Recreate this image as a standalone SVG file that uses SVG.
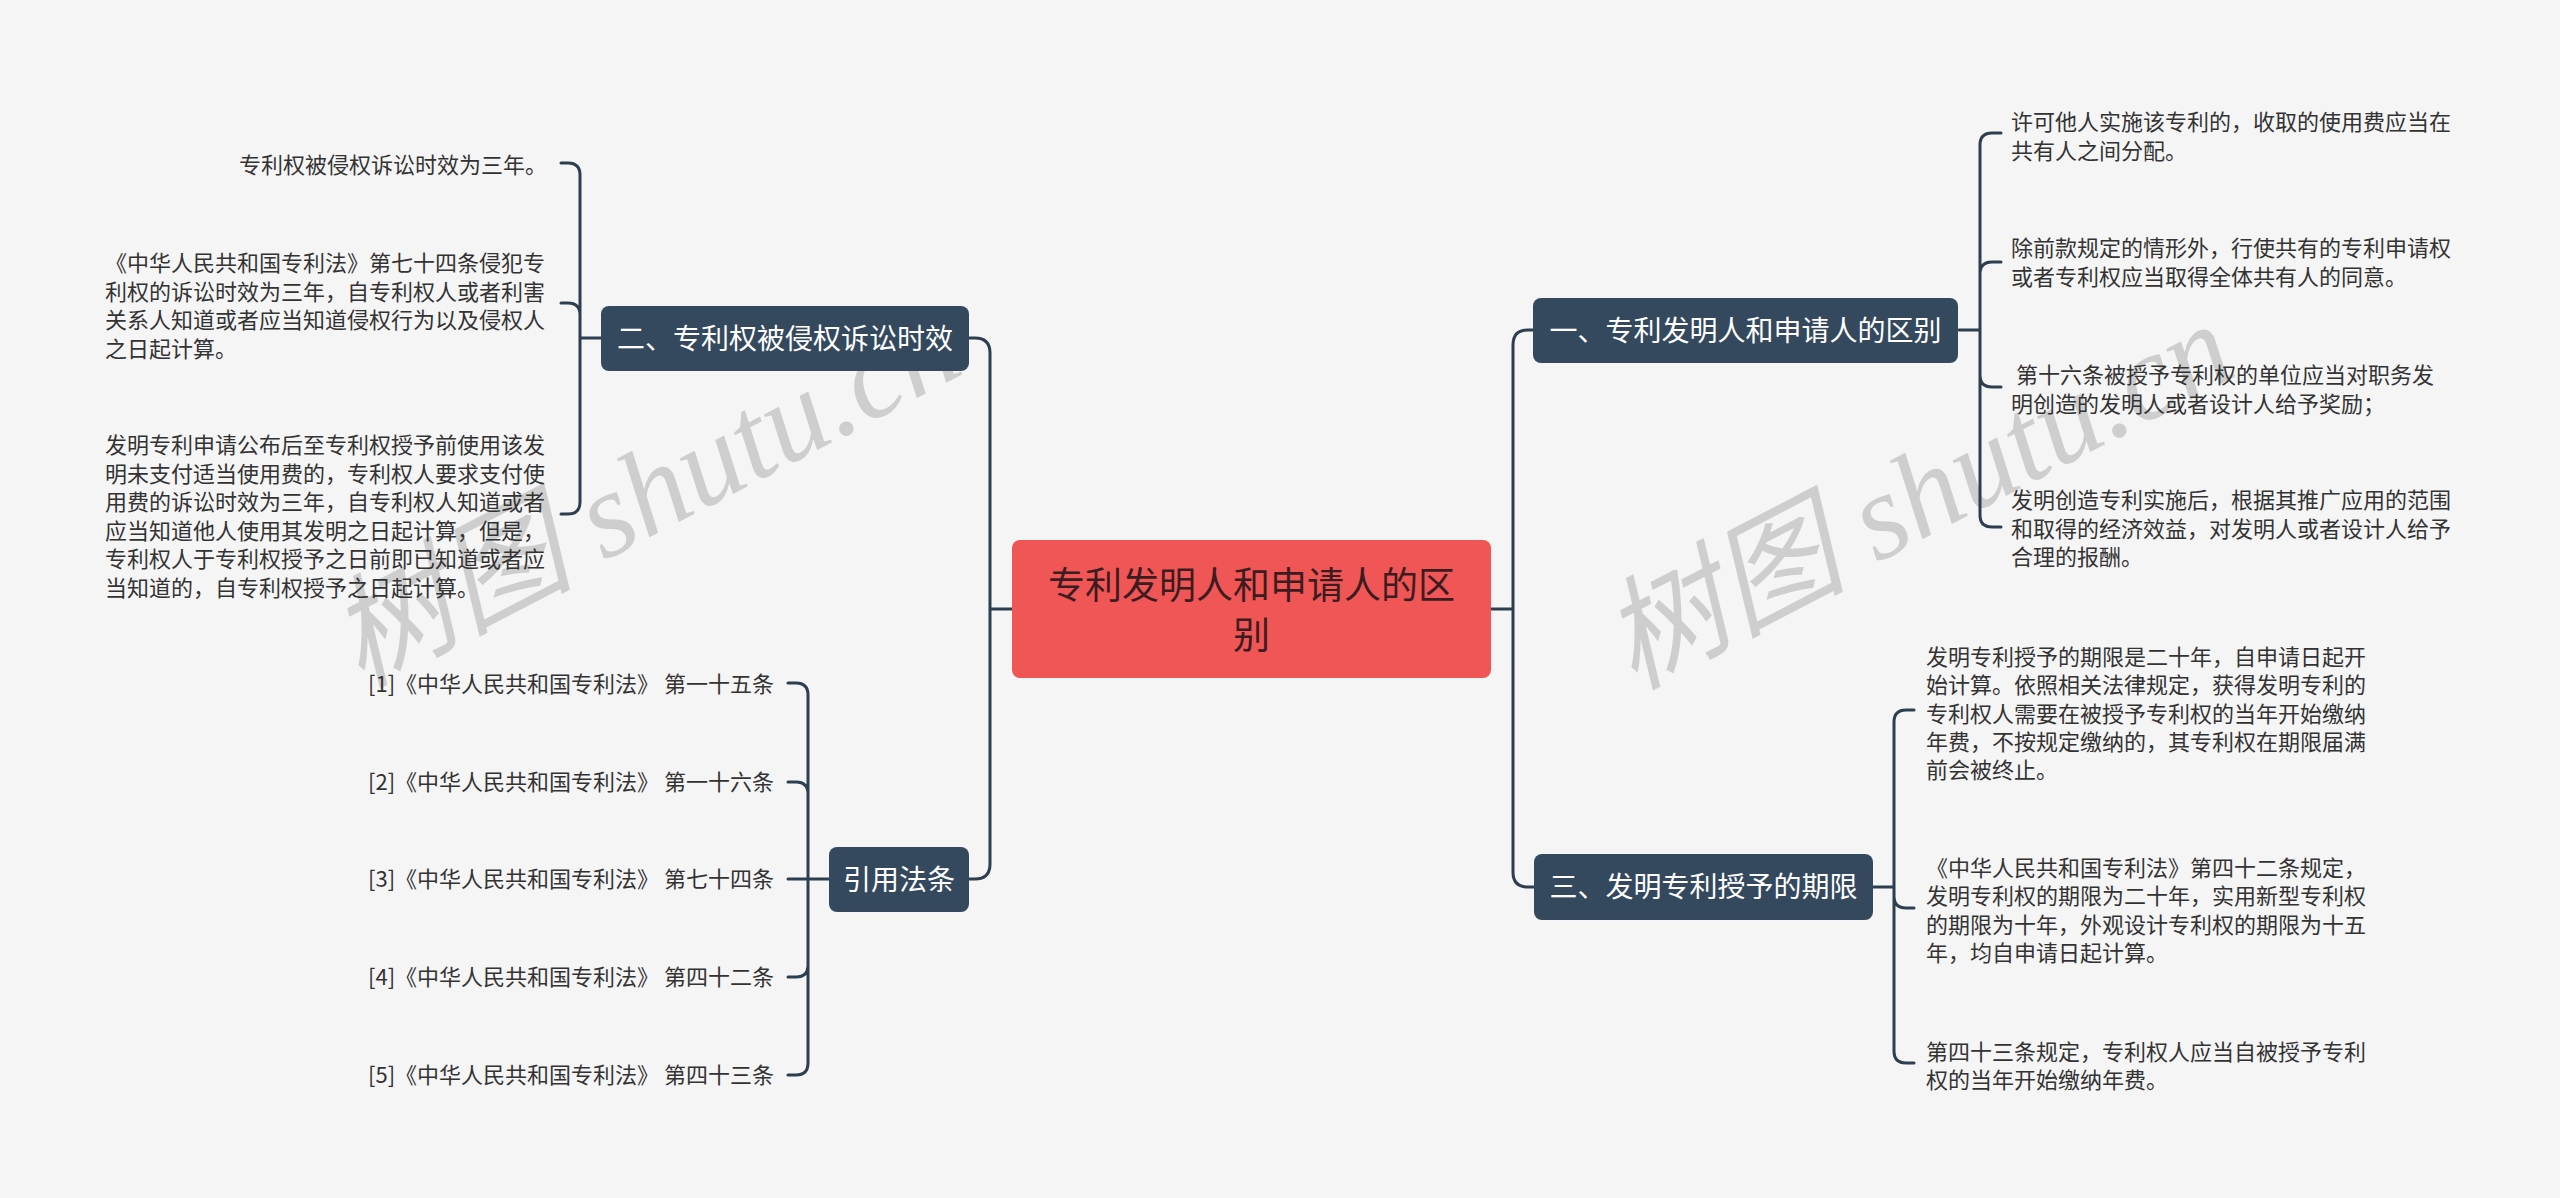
<svg xmlns="http://www.w3.org/2000/svg" width="2560" height="1198" viewBox="0 0 2560 1198">
<style>
.bg{fill:#f5f5f5}
.link{fill:none;stroke:#2c3e50;stroke-width:3;stroke-linecap:round}
.topic{fill:#34495e}
.tt{font-family:"Noto Sans CJK SC","Noto Sans",sans-serif;font-size:28px;fill:#ffffff;text-anchor:middle}
.ct{font-family:"Noto Sans CJK SC","Noto Sans",sans-serif;font-size:37px;fill:#3d1c1f;text-anchor:middle}
.leaf{font-family:"Noto Sans CJK SC","Noto Sans",sans-serif;font-size:22px;fill:#333333;white-space:pre}
.wm{font-family:"Liberation Serif","Noto Sans CJK SC",serif;font-style:italic;font-size:122px;fill:#c8c8c8;opacity:0.85}
</style>
<rect class="bg" x="0" y="0" width="2560" height="1198"/>

<g id="watermark">
  <text class="wm" x="360" y="688" transform="rotate(-27.5 360 688)">树图 shutu.cn</text>
  <text class="wm" x="1633" y="690" transform="rotate(-27.5 1633 690)">树图 shutu.cn</text>
</g>

<g id="connectors">
  <path class="link" d="M969,338 H975 Q990,338 990,353 V864 Q990,879 975,879 H969 M990,609 H1012"/>
  <path class="link" d="M1533,330 H1528 Q1513,330 1513,345 V872 Q1513,887 1528,887 H1534 M1491,609 H1513"/>
  <path class="link" d="M561,163 H568 Q580,163 580,175 V502 Q580,514 568,514 H561 M561,303 H568 Q580,303 580,315 M580,338 H601"/>
  <path class="link" d="M788,683 H796 Q808,683 808,695 V1063 Q808,1075 796,1075 H788 M788,782 H796 Q808,782 808,794 M788,977 H796 Q808,977 808,965 M788,879 H829"/>
  <path class="link" d="M2001,133 H1992 Q1980,133 1980,145 V515 Q1980,527 1992,527 H2001 M2001,262 H1992 Q1980,262 1980,274 M2001,387 H1992 Q1980,387 1980,375 M1959,330 H1980"/>
  <path class="link" d="M1914,710 H1906 Q1894,710 1894,722 V1051 Q1894,1063 1906,1063 H1914 M1914,908 H1906 Q1894,908 1894,896 M1873,887 H1894"/>
</g>

<g id="center">
  <rect x="1012" y="540" width="479" height="138" rx="8" fill="#f05656"/>
  <text class="ct" x="1251.5" y="599">专利发明人和申请人的区</text>
  <text class="ct" x="1251.5" y="649">别</text>
</g>

<g id="node-2">
  <rect class="topic" x="601" y="306" width="368" height="65" rx="8"/>
  <text class="tt" x="785" y="349">二、专利权被侵权诉讼时效</text>
</g>
<g id="leaf-2-1"><text class="leaf" x="239" y="173">专利权被侵权诉讼时效为三年。</text></g>
<g id="leaf-2-2"><text class="leaf" y="271">
  <tspan x="105">《中华人民共和国专利法》第七十四条侵犯专</tspan>
  <tspan x="105" dy="28.5">利权的诉讼时效为三年，自专利权人或者利害</tspan>
  <tspan x="105" dy="28.5">关系人知道或者应当知道侵权行为以及侵权人</tspan>
  <tspan x="105" dy="28.5">之日起计算。</tspan></text></g>
<g id="leaf-2-3"><text class="leaf" y="453">
  <tspan x="105">发明专利申请公布后至专利权授予前使用该发</tspan>
  <tspan x="105" dy="28.5">明未支付适当使用费的，专利权人要求支付使</tspan>
  <tspan x="105" dy="28.5">用费的诉讼时效为三年，自专利权人知道或者</tspan>
  <tspan x="105" dy="28.5">应当知道他人使用其发明之日起计算，但是，</tspan>
  <tspan x="105" dy="28.5">专利权人于专利权授予之日前即已知道或者应</tspan>
  <tspan x="105" dy="28.5">当知道的，自专利权授予之日起计算。</tspan></text></g>

<g id="node-cite">
  <rect class="topic" x="829" y="847" width="140" height="65" rx="8"/>
  <text class="tt" x="899" y="890">引用法条</text>
</g>
<g id="cite-1"><text class="leaf" x="368" y="692">[1]《中华人民共和国专利法》 第一十五条</text></g>
<g id="cite-2"><text class="leaf" x="368" y="790">[2]《中华人民共和国专利法》 第一十六条</text></g>
<g id="cite-3"><text class="leaf" x="368" y="887">[3]《中华人民共和国专利法》 第七十四条</text></g>
<g id="cite-4"><text class="leaf" x="368" y="985">[4]《中华人民共和国专利法》 第四十二条</text></g>
<g id="cite-5"><text class="leaf" x="368" y="1083">[5]《中华人民共和国专利法》 第四十三条</text></g>

<g id="node-1">
  <rect class="topic" x="1533" y="298" width="425" height="65" rx="8"/>
  <text class="tt" x="1745.5" y="341">一、专利发明人和申请人的区别</text>
</g>
<g id="leaf-1-1"><text class="leaf" y="130">
  <tspan x="2011">许可他人实施该专利的，收取的使用费应当在</tspan>
  <tspan x="2011" dy="28.5">共有人之间分配。</tspan></text></g>
<g id="leaf-1-2"><text class="leaf" y="256">
  <tspan x="2011">除前款规定的情形外，行使共有的专利申请权</tspan>
  <tspan x="2011" dy="28.5">或者专利权应当取得全体共有人的同意。</tspan></text></g>
<g id="leaf-1-3"><text class="leaf" y="383" xml:space="preserve"><tspan x="2011"> 第十六条被授予专利权的单位应当对职务发</tspan><tspan x="2011" dy="28.5">明创造的发明人或者设计人给予奖励；</tspan></text></g>
<g id="leaf-1-4"><text class="leaf" y="508">
  <tspan x="2011">发明创造专利实施后，根据其推广应用的范围</tspan>
  <tspan x="2011" dy="28.5">和取得的经济效益，对发明人或者设计人给予</tspan>
  <tspan x="2011" dy="28.5">合理的报酬。</tspan></text></g>

<g id="node-3">
  <rect class="topic" x="1534" y="854" width="339" height="66" rx="8"/>
  <text class="tt" x="1703.5" y="897">三、发明专利授予的期限</text>
</g>
<g id="leaf-3-1"><text class="leaf" y="665">
  <tspan x="1926">发明专利授予的期限是二十年，自申请日起开</tspan>
  <tspan x="1926" dy="28.3">始计算。依照相关法律规定，获得发明专利的</tspan>
  <tspan x="1926" dy="28.3">专利权人需要在被授予专利权的当年开始缴纳</tspan>
  <tspan x="1926" dy="28.3">年费，不按规定缴纳的，其专利权在期限届满</tspan>
  <tspan x="1926" dy="28.3">前会被终止。</tspan></text></g>
<g id="leaf-3-2"><text class="leaf" y="876">
  <tspan x="1926">《中华人民共和国专利法》第四十二条规定，</tspan>
  <tspan x="1926" dy="28.3">发明专利权的期限为二十年，实用新型专利权</tspan>
  <tspan x="1926" dy="28.3">的期限为十年，外观设计专利权的期限为十五</tspan>
  <tspan x="1926" dy="28.3">年，均自申请日起计算。</tspan></text></g>
<g id="leaf-3-3"><text class="leaf" y="1060">
  <tspan x="1926">第四十三条规定，专利权人应当自被授予专利</tspan>
  <tspan x="1926" dy="28.3">权的当年开始缴纳年费。</tspan></text></g>
</svg>
